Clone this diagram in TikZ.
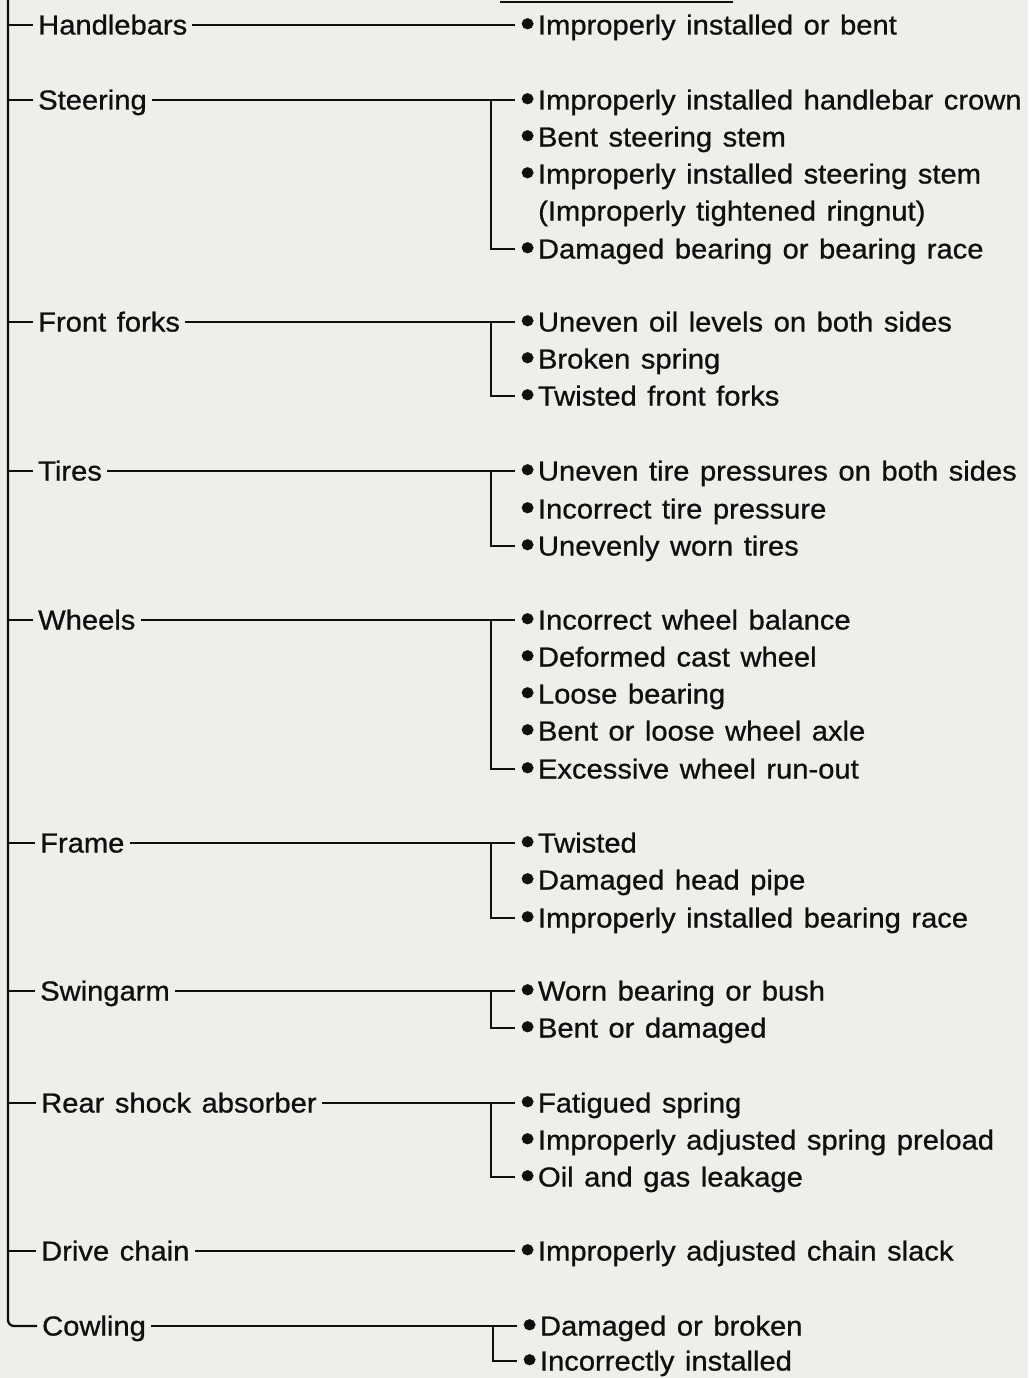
\documentclass[tikz,border=0pt]{standalone}
\usepackage{fontspec}
\setmainfont{Liberation Sans}[FakeStretch=1.06, WordSpace=1.3, FakeBold=0.8]
\usepackage{tikz}
\usetikzlibrary{positioning, calc}

\definecolor{paper}{RGB}{238,238,235}
\definecolor{ink}{RGB}{15,15,15}

\newcommand{\dotmark}{\raisebox{-0.09em}{\scalebox{1.45}{\textbullet}}}

\begin{document}
\begin{tikzpicture} [
                x=1pt, y=-1pt,
                part/.style={anchor=west, inner xsep=5pt, inner ysep=0pt, text height=19pt, text depth=0pt, text=ink, font=\fontsize{27.5}{30}\selectfont},
                cause/.style={part, inner xsep=5pt, execute at begin node={\dotmark\hspace{3pt}}},
                note/.style={part, inner xsep=0pt},
                link/.style={draw=ink, line width=2.3pt}
            ]
            \fill[paper] (0,0) rectangle (1028,1378);
            \useasboundingbox (0,0) rectangle (1028,1378);
            \coordinate (top) at (8,0);
            \coordinate (jx) at (491,0);

            % cut-off rule at the top edge
            \draw[link] (500,2) -- (733,2);

            % Handlebars
            \begin{scope}
                \node[part] (handle) at (33,25) {Handlebars};
                \node[cause] (handle1) at (515,25) {Improperly installed or bent};
            \end{scope}

            % Steering
            \begin{scope}
                \node[part] (steer) at (33,100) {Steering};
                \node[cause] (steer1) at (515,100) {Improperly installed handlebar crown};
                \node[cause] (steer2) at (515,137) {Bent steering stem};
                \node[cause] (steer3) at (515,174) {Improperly installed steering stem};
                \node[note] (steer3b) at (538,211) {(Improperly tightened ringnut)};
                \node[cause] (steer4) at (515,249) {Damaged bearing or bearing race};
            \end{scope}

            % Front forks
            \begin{scope}
                \node[part] (fork) at (33,322) {Front forks};
                \node[cause] (fork1) at (515,322) {Uneven oil levels on both sides};
                \node[cause] (fork2) at (515,359) {Broken spring};
                \node[cause] (fork3) at (515,396) {Twisted front forks};
            \end{scope}

            % Tires
            \begin{scope}
                \node[part] (tire) at (33,471) {Tires};
                \node[cause] (tire1) at (515,471) {Uneven tire pressures on both sides};
                \node[cause] (tire2) at (515,509) {Incorrect tire pressure};
                \node[cause] (tire3) at (515,546) {Unevenly worn tires};
            \end{scope}

            % Wheels
            \begin{scope}
                \node[part] (wheel) at (33,620) {Wheels};
                \node[cause] (wheel1) at (515,620) {Incorrect wheel balance};
                \node[cause] (wheel2) at (515,657) {Deformed cast wheel};
                \node[cause] (wheel3) at (515,694) {Loose bearing};
                \node[cause] (wheel4) at (515,731) {Bent or loose wheel axle};
                \node[cause] (wheel5) at (515,769) {Excessive wheel run-out};
            \end{scope}

            % Frame
            \begin{scope}
                \node[part] (frame) at (35,843) {Frame};
                \node[cause] (frame1) at (515,843) {Twisted};
                \node[cause] (frame2) at (515,880) {Damaged head pipe};
                \node[cause] (frame3) at (515,918) {Improperly installed bearing race};
            \end{scope}

            % Swingarm
            \begin{scope}
                \node[part] (swing) at (35,991) {Swingarm};
                \node[cause] (swing1) at (515,991) {Worn bearing or bush};
                \node[cause] (swing2) at (515,1028) {Bent or damaged};
            \end{scope}

            % Rear shock absorber
            \begin{scope}
                \node[part] (shock) at (36,1103) {Rear shock absorber};
                \node[cause] (shock1) at (515,1103) {Fatigued spring};
                \node[cause] (shock2) at (515,1140) {Improperly adjusted spring preload};
                \node[cause] (shock3) at (515,1177) {Oil and gas leakage};
            \end{scope}

            % Drive chain
            \begin{scope}
                \node[part] (chain) at (36,1251) {Drive chain};
                \node[cause] (chain1) at (515,1251) {Improperly adjusted chain slack};
            \end{scope}

            % Cowling
            \begin{scope}
                \node[part] (cowl) at (37,1326) {Cowling};
                \node[cause] (cowl1) at (517,1326) {Damaged or broken};
                \node[cause] (cowl2) at (517,1361) {Incorrectly installed};
            \end{scope}

            % Trunk
            \draw[link, rounded corners=6pt] (top) |- (cowl.west);
            \draw[link] (top |- handle.west) -- (handle.west);
            \draw[link] (top |- steer.west) -- (steer.west);
            \draw[link] (top |- fork.west) -- (fork.west);
            \draw[link] (top |- tire.west) -- (tire.west);
            \draw[link] (top |- wheel.west) -- (wheel.west);
            \draw[link] (top |- frame.west) -- (frame.west);
            \draw[link] (top |- swing.west) -- (swing.west);
            \draw[link] (top |- shock.west) -- (shock.west);
            \draw[link] (top |- chain.west) -- (chain.west);

            % Branches
            \draw[link] (handle.east) -- (handle1.west);
            \draw[link] (steer.east) -- (steer1.west);
            \draw[link] (jx |- steer.east) |- (steer4.west);
            \draw[link] (fork.east) -- (fork1.west);
            \draw[link] (jx |- fork.east) |- (fork3.west);
            \draw[link] (tire.east) -- (tire1.west);
            \draw[link] (jx |- tire.east) |- (tire3.west);
            \draw[link] (wheel.east) -- (wheel1.west);
            \draw[link] (jx |- wheel.east) |- (wheel5.west);
            \draw[link] (frame.east) -- (frame1.west);
            \draw[link] (jx |- frame.east) |- (frame3.west);
            \draw[link] (swing.east) -- (swing1.west);
            \draw[link] (jx |- swing.east) |- (swing2.west);
            \draw[link] (shock.east) -- (shock1.west);
            \draw[link] (jx |- shock.east) |- (shock3.west);
            \draw[link] (chain.east) -- (chain1.west);
            \draw[link] (cowl.east) -- (cowl1.west);
            \draw[link] ($(jx |- cowl.east)+(2,0)$) |- (cowl2.west);
        \end{tikzpicture}
\end{document}
